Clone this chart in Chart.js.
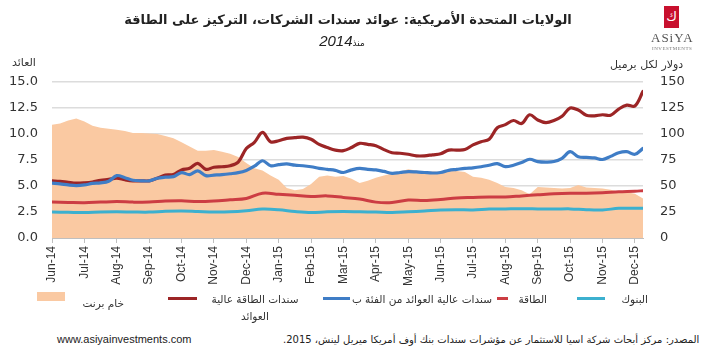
<!DOCTYPE html>
<html><head><meta charset="utf-8">
<script src="https://cdn.jsdelivr.net/npm/chart.js@4"></script>
<style>
html,body{margin:0;padding:0;background:#fff;}
#wrap{position:relative;width:702px;height:351px;overflow:hidden;font-family:"DejaVu Sans",sans-serif;color:#222;}
.abs{position:absolute;white-space:nowrap;}
canvas{position:absolute;left:0;top:0;}
</style></head><body>
<div id="wrap">
<canvas id="c" width="702" height="295"></canvas>
<div class="abs" style="left:0;width:696px;top:12px;text-align:center;font-weight:bold;font-size:13px;direction:rtl;">الولايات المتحدة الأمريكية: عوائد سندات الشركات، التركيز على الطاقة</div>
<div class="abs" style="left:0;width:684px;top:31px;text-align:center;direction:rtl;"><span style="font-size:9px;">منذ</span><span style="font-size:15px;font-style:italic;font-family:'Liberation Sans',sans-serif;">2014</span></div>
<div class="abs" style="left:664px;top:6px;width:15px;height:22px;background:#c8102e;color:#fff;font-size:13px;text-align:center;line-height:22px;">ك</div>
<div class="abs" style="left:651px;top:30px;font-family:'Liberation Serif',serif;font-size:13px;color:#555;letter-spacing:1px;">ASiYA</div>
<div class="abs" style="left:652px;top:46px;font-family:'Liberation Serif',serif;font-size:5px;color:#777;letter-spacing:0.5px;">INVESTMENTS</div>
<div class="abs" style="left:12px;top:56px;font-size:11px;color:#333;direction:rtl;">العائد</div>
<div class="abs" style="left:610px;top:58px;font-size:11px;color:#333;direction:rtl;">دولار لكل برميل</div>
<div id="legend"></div>
<div class="abs" style="left:283px;top:334px;font-size:10px;color:#222;direction:rtl;">المصدر: مركز أبحاث شركة اسيا للاستثمار عن مؤشرات سندات بنك أوف أمريكا ميريل لينش، 2015.</div>
<div class="abs" style="left:57px;top:333px;font-size:11px;font-family:'Liberation Sans',sans-serif;color:#222;">www.asiyainvestments.com</div>
</div>
<script>
const monthLabels = ['Jun-14','Jul-14','Aug-14','Sep-14','Oct-14','Nov-14','Dec-14','Jan-15','Feb-15','Mar-15','Apr-15','May-15','Jun-15','Jul-15','Aug-15','Sep-15','Oct-15','Nov-15','Dec-15'];

// x positions in months since Jun-14
const xFine = [0,0.25,0.5,0.75,1,1.25,1.5,1.75,2,2.25,2.5,2.75,3,3.25,3.5,3.75,4,4.25,4.5,4.75,5,5.25,5.5,5.75,6,6.25,6.5,6.75,7,7.25,7.5,7.75,8,8.25,8.5,8.75,9,9.25,9.5,9.75,10,10.25,10.5,10.75,11,11.25,11.5,11.75,12,12.25,12.5,12.75,13,13.25,13.5,13.75,14,14.25,14.5,14.75,15,15.25,15.5,15.75,16,16.25,16.5,16.75,17,17.25,17.5,17.75,18,18.25];
const xCoarse = [0,0.5,1,1.5,2,2.5,3,3.5,4,4.5,5,5.5,6,6.5,7,7.5,8,8.5,9,9.5,10,10.5,11,11.5,12,12.5,13,13.5,14,14.5,15,15.5,16,16.5,17,17.5,18,18.25];

const brent = [109,110,113,115,112,108,106,105,104,103,101,101,100.5,100,98,96,92,88,84,84,84.5,83,81,78,72,67,65,60,56,48,46,47,52,59,60,59,59.5,57,53,55,58,60,62,64,66,65,63.5,64,63.8,65,64.5,63.5,59,58,56,53,49,48,46,42,49,48.5,48,47.5,48,51,48.5,48,47.5,46.5,44.5,44,42.5,38];
const energyHY = [5.49,5.45,5.35,5.27,5.3,5.38,5.55,5.63,5.75,5.6,5.5,5.5,5.5,5.75,6.05,6.1,6.55,6.7,7.18,6.6,6.8,6.85,6.95,7.3,8.6,9.2,10.15,9.25,9.35,9.58,9.65,9.7,9.5,9.0,8.7,8.45,8.4,8.7,9.1,9.0,8.87,8.5,8.2,8.15,8.05,7.9,7.9,8.0,8.1,8.45,8.45,8.5,8.95,9.25,9.5,10.6,10.9,11.3,11.0,11.85,11.35,11.1,11.3,11.7,12.5,12.3,11.8,11.75,11.85,11.8,12.4,12.77,12.7,14.1];
const hyB = [5.27,5.2,5.1,5.04,5.1,5.25,5.3,5.45,6.0,5.8,5.55,5.5,5.5,5.75,5.85,5.9,6.28,6.1,6.45,6.0,6.05,6.1,6.18,6.28,6.5,6.9,7.43,6.95,7.05,7.12,7.0,6.95,6.85,6.7,6.6,6.5,6.3,6.55,6.7,6.6,6.55,6.4,6.22,6.3,6.38,6.35,6.3,6.25,6.3,6.5,6.6,6.7,6.75,6.85,7.0,7.15,6.86,7.0,7.25,7.57,7.35,7.3,7.35,7.66,8.3,7.82,7.75,7.7,7.55,7.85,8.2,8.3,8.05,8.62];
const energy = [3.45,3.42,3.4,3.45,3.5,3.45,3.45,3.55,3.58,3.5,3.55,3.67,3.8,4.3,4.2,4.1,4.0,4.05,3.9,3.75,3.45,3.41,3.65,3.6,3.7,3.85,3.9,3.95,3.95,4.05,4.15,4.25,4.3,4.3,4.35,4.45,4.5,4.55];
const banks = [2.49,2.47,2.45,2.5,2.52,2.5,2.49,2.57,2.6,2.55,2.5,2.52,2.62,2.78,2.72,2.55,2.45,2.52,2.55,2.52,2.49,2.45,2.52,2.6,2.7,2.72,2.7,2.78,2.8,2.82,2.8,2.78,2.8,2.72,2.7,2.85,2.87,2.87];

const leftTicks = [0,2.5,5,7.5,10,12.5,15];
const rightTicks = [0,25,50,75,100,125,150];

const seriesNames = {
  brent:'خام برنت',
  energyHY:'سندات الطاقة عالية العوائد',
  hyB:'سندات عالية العوائد من الفئة ب',
  energy:'الطاقة',
  banks:'البنوك'
};
const colors = {brent:'#fac9a2', energyHY:'#9c2526', hyB:'#3f7dc6', energy:'#cc3d43', banks:'#3cb0cf'};

const pts = (xs, ys) => ys.map((y,i)=>({x:xs[i], y}));
const lineDs = (key, xs, ys, w, order) => ({
  label: seriesNames[key], data: pts(xs, ys), yAxisID:'y', borderColor: colors[key],
  borderWidth: w, pointRadius:0, tension:0.35, fill:false, order, borderCapStyle:'round', borderJoinStyle:'round'
});

const datasets = [
  {label: seriesNames.brent, data: pts(xFine, brent), yAxisID:'y1', fill:'origin',
   backgroundColor: colors.brent, borderColor: colors.brent, borderWidth:0, pointRadius:0, tension:0, order:10},
  lineDs('banks', xCoarse, banks, 3, 4),
  lineDs('energy', xCoarse, energy, 3, 3),
  lineDs('energyHY', xFine, energyHY, 3.2, 2),
  lineDs('hyB', xFine, hyB, 3.2, 1)
];

const tickFont = {family:'DejaVu Sans', size:13};
new Chart(document.getElementById('c'), {
  type:'line',
  data:{datasets},
  options:{
    responsive:false, animation:false, devicePixelRatio:1,
    layout:{padding:{top:82, bottom:0, left:0, right:0}},
    plugins:{legend:{display:false}, tooltip:{enabled:false}},
    scales:{
      x:{type:'linear', min:0, max:18.25,
        afterBuildTicks:s=>{ s.ticks = monthLabels.map((_,i)=>({value:i})); },
        afterFit:s=>{ s.height = 57; },
        ticks:{autoSkip:false, minRotation:90, maxRotation:90, padding:3,
          font:{family:'Liberation Sans', size:12}, color:'#333',
          callback:(v)=>monthLabels[v] ?? ''},
        grid:{drawOnChartArea:false, drawTicks:true, tickLength:5, color:'#bfbfbf'},
        border:{display:true, color:'#bfbfbf', width:1}
      },
      y:{position:'left', min:0, max:15,
        afterBuildTicks:s=>{ s.ticks = leftTicks.map(v=>({value:v})); },
        afterFit:s=>{ s.width = 52; },
        ticks:{padding:14, font:tickFont, color:'#333', callback:v=>Number(v).toFixed(1)},
        grid:{color:'#dcdcdc', lineWidth:1.5, drawTicks:false},
        border:{display:false}
      },
      y1:{position:'right', min:0, max:150,
        afterBuildTicks:s=>{ s.ticks = rightTicks.map(v=>({value:v})); },
        afterFit:s=>{ s.width = 59; },
        ticks:{padding:17, font:tickFont, color:'#333'},
        grid:{drawOnChartArea:false, drawTicks:false},
        border:{display:false}
      }
    }
  }
});

// legend (HTML) built from the series names/colours; text anchored by its right edge
const legendItems = [
  {key:'banks', mark:'line', mx:577, mw:28, tr:648},
  {key:'energy', mark:'line', mx:497, mw:11, tr:547},
  {key:'hyB', mark:'line', mx:323, mw:27, tr:492},
  {key:'energyHY', mark:'line', mx:168, mw:29, tr:303, wrap:96},
  {key:'brent', mark:'box', mx:37, mw:28, tr:124}
];
const lg = document.getElementById('legend');
legendItems.forEach(it=>{
  const m = document.createElement('div');
  m.className='abs';
  m.style.left = it.mx+'px';
  m.style.width = it.mw+'px';
  if(it.mark==='box'){ m.style.top='292px'; m.style.height='9px'; }
  else { m.style.top='297px'; m.style.height='3px'; }
  m.style.background = colors[it.key];
  lg.appendChild(m);
  const t = document.createElement('div');
  t.className='abs';
  t.style.right = (702-it.tr)+'px';
  t.style.top = (it.key==='brent'?'295px':'291px');
  t.style.fontSize='10.5px';
  t.style.color='#333';
  t.style.direction='rtl';
  t.style.lineHeight='17px';
  if(it.wrap){ t.style.whiteSpace='normal'; t.style.width=it.wrap+'px'; t.style.textAlign='center'; }
  t.textContent = seriesNames[it.key];
  lg.appendChild(t);
});
</script>
</body></html>
